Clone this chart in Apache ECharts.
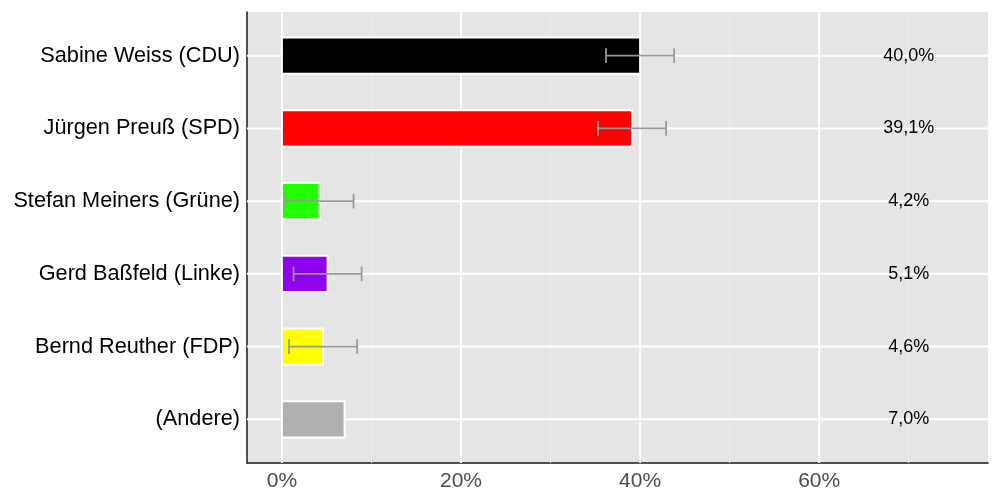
<!DOCTYPE html>
<html>
<head>
<meta charset="utf-8">
<script src="https://cdn.jsdelivr.net/npm/echarts@6/dist/echarts.min.js"></script>
<style>html,body{margin:0;padding:0;background:#fff;}#c{width:1000px;height:500px;}</style>
</head>
<body>
<div id="c"></div>
<script>
// ---- data ----
const categories = ['Sabine Weiss (CDU)', 'Jürgen Preuß (SPD)', 'Stefan Meiners (Grüne)', 'Gerd Baßfeld (Linke)', 'Bernd Reuther (FDP)', '(Andere)'];
const values = [40.0, 39.1, 4.2, 5.1, 4.6, 7.0];
const colors = ['#000000', '#ff0000', '#22ff00', '#8f00ee', '#ffff00', '#b0b0b0'];
const errLow = [36.2, 35.3, 0.4, 1.3, 0.8, null];
const errHigh = [43.8, 42.9, 8.0, 8.9, 8.4, null];
const xTicks = [0, 20, 40, 60];
const xMinorTicks = [10, 30, 50, 70];
const labelX = 70;

const FONT = "Liberation Sans, Arial, Helvetica, sans-serif";

const barData = values.map((v, i) => [v, i, colors[i]]);
const errData = [];
errLow.forEach((lo, i) => { if (lo != null) errData.push([lo, errHigh[i], i]); });
const textData = values.map((v, i) => [labelX, i, v]);
// gridline specs: [orientation(0=vertical,1=horizontal), value, kind(0=minor,1=major)]
const gridData = [
  ...xMinorTicks.map(t => [0, t, 0]),
  ...xTicks.map(t => [0, t, 1]),
  ...categories.map((c, i) => [1, i, 1])
];

const chart = echarts.init(document.getElementById('c'), null, { renderer: 'canvas' });
chart.setOption({
  animation: false,
  textStyle: { fontFamily: FONT },
  grid: {
    left: 247, right: 12, top: 12, bottom: 37,
    show: true, backgroundColor: '#e5e5e5', borderWidth: 0
  },
  xAxis: {
    type: 'value', min: -3.9, max: 78.85,
    axisLine: { show: true, onZero: false, lineStyle: { color: '#1a1a1a', width: 1.5 } },
    axisTick: { show: false },
    splitLine: { show: false },
    axisLabel: {
      color: '#4d4d4d', fontSize: 21, fontFamily: FONT, margin: 8,
      formatter: v => xTicks.indexOf(v) >= 0 ? v + '%' : ''
    }
  },
  yAxis: {
    type: 'value', inverse: true, min: -0.6, max: 5.6,
    axisLine: { show: true, onZero: false, lineStyle: { color: '#1a1a1a', width: 1.5 } },
    axisTick: { show: false },
    splitLine: { show: false },
    axisLabel: {
      color: '#000', fontSize: 21.7, fontFamily: FONT, margin: 7,
      formatter: v => (Number.isInteger(v) && categories[v] !== undefined) ? categories[v] : ''
    }
  },
  series: [
    {
      type: 'custom', z: 1, silent: true,
      data: gridData,
      encode: { x: 1 },
      clip: true,
      renderItem: (params, api) => {
        const orient = api.value(0), val = api.value(1), kind = api.value(2);
        const cs = params.coordSys;
        const st = kind === 1 ? { stroke: '#ffffff', lineWidth: 2 } : { stroke: '#ececec', lineWidth: 1 };
        if (orient === 0) {
          const x = api.coord([val, 0])[0];
          return { type: 'line', shape: { x1: x, y1: cs.y, x2: x, y2: cs.y + cs.height }, style: st };
        }
        const y = api.coord([0, val])[1];
        return { type: 'line', shape: { x1: cs.x, y1: y, x2: cs.x + cs.width, y2: y }, style: st };
      }
    },
    {
      type: 'custom', z: 3, silent: true,
      data: barData,
      encode: { x: 0, y: 1 },
      renderItem: (params, api) => {
        const v = api.value(0), idx = api.value(1);
        const p0 = api.coord([0, idx]);
        const p1 = api.coord([v, idx]);
        const h = Math.abs(api.size([0, 0.5])[1]);
        return {
          type: 'rect',
          shape: { x: p0[0], y: p0[1] - h / 2, width: p1[0] - p0[0], height: h },
          style: { fill: barData[params.dataIndex][2], stroke: '#ffffff', lineWidth: 2 }
        };
      }
    },
    {
      type: 'custom', z: 4, silent: true,
      data: errData,
      encode: { x: [0, 1], y: 2 },
      renderItem: (params, api) => {
        const lo = api.value(0), hi = api.value(1), idx = api.value(2);
        const a = api.coord([lo, idx]);
        const b = api.coord([hi, idx]);
        const capTop = api.coord([lo, idx - 0.1])[1];
        const capBot = api.coord([lo, idx + 0.1])[1];
        const st = { stroke: '#999999', lineWidth: 1.8 };
        return {
          type: 'group',
          children: [
            { type: 'line', shape: { x1: a[0], y1: a[1], x2: b[0], y2: b[1] }, style: st },
            { type: 'line', shape: { x1: a[0], y1: capTop, x2: a[0], y2: capBot }, style: st },
            { type: 'line', shape: { x1: b[0], y1: capTop, x2: b[0], y2: capBot }, style: st }
          ]
        };
      }
    },
    {
      type: 'custom', z: 5, silent: true,
      data: textData,
      encode: { x: 0, y: 1 },
      renderItem: (params, api) => {
        const p = api.coord([api.value(0), api.value(1)]);
        const v = api.value(2);
        return {
          type: 'text',
          style: {
            x: p[0], y: p[1],
            text: v.toFixed(1).replace('.', ',') + '%',
            fill: '#000', fontSize: 18, fontFamily: FONT,
            align: 'center', verticalAlign: 'middle'
          }
        };
      }
    }
  ]
});
</script>
</body>
</html>
